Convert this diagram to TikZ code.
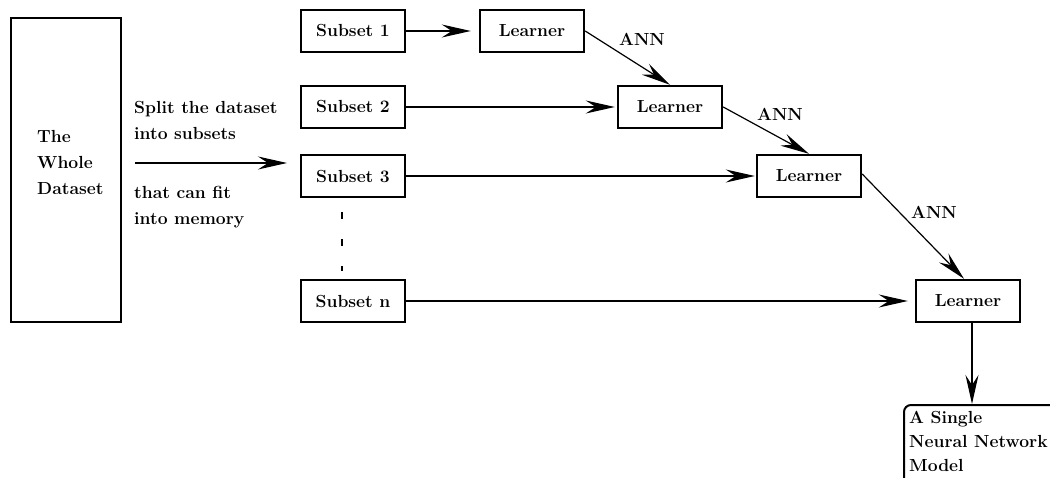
\documentclass[tikz,border=0pt]{standalone}
\usetikzlibrary{arrows.meta,calc}
\begin{document}
\begin{tikzpicture}[x=1pt,y=-1pt,
  box/.style={draw, line width=2.4pt, minimum width=104pt, minimum height=42pt, inner sep=0pt,
    font=\fontsize{17.5}{20}\selectfont\bfseries},
  conn/.style={line width=1.2pt, -{Stealth[length=29pt,width=13pt,inset=10pt]}},
  lbl/.style={font=\fontsize{17.5}{26}\selectfont\bfseries, align=left, inner sep=0pt},
  ann/.style={font=\fontsize{17.5}{20}\selectfont\bfseries, inner sep=0pt}]
\useasboundingbox (0,0) rectangle (1050,478);
\clip (0,0) rectangle (1050,478);
% whole dataset
\node[box, minimum width=110pt, minimum height=304pt, anchor=north west] (whole) at (10,17) {};
\node[lbl, anchor=north west] (wtxt) at (37,130) {The\\Whole\\Dataset};
% split arrow and texts
\coordinate (sa) at (135,163);
\coordinate (sb) at (287,163);
\draw[conn] (sa) -- (sb);
\node[lbl, anchor=north west] (split) at (134,101) {Split the dataset\\into subsets};
\node[lbl, anchor=north west] (fit) at (134,186) {that can fit\\into memory};
% subsets
\node[box] (s1) at (353,31) {Subset 1};
\node[box] (s2) at (353,107) {Subset 2};
\node[box] (s3) at (353,176) {Subset 3};
\node[box] (sn) at (353,301) {Subset n};
\draw[line width=2.4pt, dash pattern=on 7pt off 20pt] ($(s3.south)+(-11,14)$) -- ($(sn.north)+(-11,-8)$);
% learners
\node[box] (l1) at (532,31) {Learner};
\node[box] (l2) at (670,107) {Learner};
\node[box] (l3) at (809,176) {Learner};
\node[box] (l4) at (968,301) {Learner};
% horizontal connectors
\draw[conn, shorten >=8pt] (s1) -- (l1);
\draw[conn, shorten >=2pt] (s2) -- (l2);
\draw[conn, shorten >=1pt] (s3) -- (l3);
\draw[conn, shorten >=7pt] (sn) -- (l4);
% diagonal connectors
\draw[conn] (l1.east) -- (l2.north);
\draw[conn] (l2.east) -- (l3.north);
\draw[conn] ($(l3.east)+(0,-2)$) -- ($(l4.north)+(-4,0)$);
\node[ann] (a1) at (642,39) {ANN};
\node[ann] (a2) at (780,114) {ANN};
\node[ann] (a3) at (934,212) {ANN};
% final model
\node[draw, line width=2pt, rounded corners=7pt, anchor=north west, minimum width=230pt, minimum height=120pt] (model) at (903,404) {};
\node[lbl, font=\fontsize{17.5}{24}\selectfont\bfseries, anchor=north west] (mtxt) at (909,411) {A Single\\Neural Network\\Model};
\coordinate (l4s) at ($(l4.south)+(4,0)$);
\draw[conn] (l4s) -- (l4s |- model.north);
\end{tikzpicture}
\end{document}
